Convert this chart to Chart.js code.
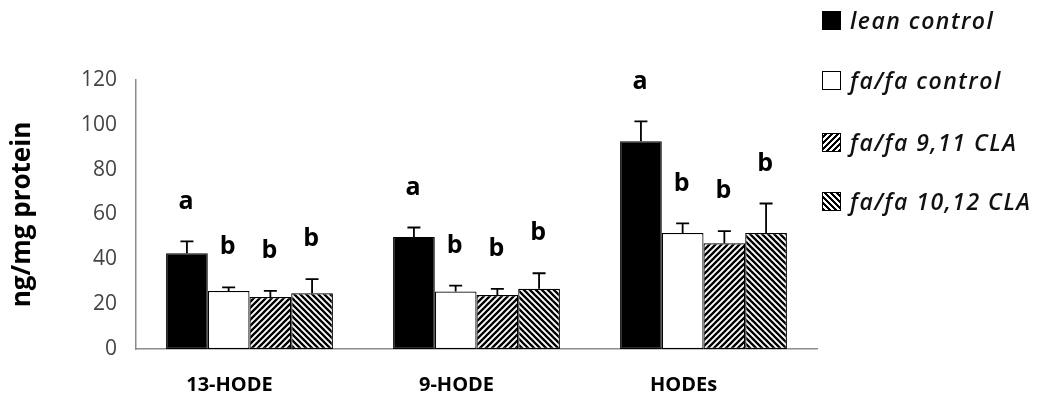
<!DOCTYPE html>
<html lang="en">
<head>
    <meta charset="UTF-8">
    <title>HODE</title>
    <script src="https://cdn.jsdelivr.net/npm/chart.js"></script>
    <style>
        body { margin: 0; background: #fff; }
        .wrap { position: relative; width: 1045px; height: 414px; }
        .legend { position: absolute; left: 822px; top: 0; font-family: "Open Sans", sans-serif; font-style: italic; font-weight: 600; font-size: 23px; letter-spacing: 1.5px; color: #111; }
        .legend div { position: absolute; left: 0; white-space: nowrap; display: flex; align-items: center; }
        .legend span.box { width: 19px; height: 19px; border: 1px solid #000; box-sizing: border-box; margin-right: 9px; }
    </style>
</head>
<body>
<div class="wrap">
    <canvas id="chart"></canvas>
    <div class="legend" id="legend"></div>
</div>

<script>
    // categories and series
    const categories = ['13-HODE', '9-HODE', 'HODEs'];
    const seriesNames = ['lean control', 'fa/fa control', 'fa/fa 9,11 CLA', 'fa/fa 10,12 CLA'];

    const leanControl = [42.7, 50.0, 92.7];
    const fafaControl = [25.9, 25.6, 51.7];
    const fafaCla911 = [23.2, 24.1, 47.2];
    const fafaCla1012 = [24.9, 26.9, 51.7];

    // standard errors
    const leanErr = [5.3, 4.2, 8.8];
    const fafaErr = [1.6, 2.7, 4.3];
    const cla911Err = [2.7, 2.7, 5.4];
    const cla1012Err = [6.3, 6.9, 13.2];

    // significance letters
    const leanLetters = ['a', 'a', 'a'];
    const fafaLetters = ['b', 'b', 'b'];
    const cla911Letters = ['b', 'b', 'b'];
    const cla1012Letters = ['b', 'b', 'b'];

    const yTicks = [0, 20, 40, 60, 80, 100, 120];

    // diagonal hatch; dir 1 = "/", dir -1 = "\"
    function stripes(dir) {
        const s = 6;
        const c = document.createElement('canvas');
        c.width = s; c.height = s;
        const g = c.getContext('2d');
        g.fillStyle = '#fff';
        g.fillRect(0, 0, s, s);
        g.strokeStyle = '#000';
        g.lineWidth = 2.3;
        g.beginPath();
        if (dir > 0) {
            g.moveTo(-1, s + 1); g.lineTo(s + 1, -1);
            g.moveTo(-1, 1); g.lineTo(1, -1);
            g.moveTo(s - 1, s + 1); g.lineTo(s + 1, s - 1);
        } else {
            g.moveTo(-1, -1); g.lineTo(s + 1, s + 1);
            g.moveTo(s - 1, -1); g.lineTo(s + 1, 1);
            g.moveTo(-1, s - 1); g.lineTo(1, s + 1);
        }
        g.stroke();
        return c;
    }

    const ctx = document.getElementById('chart').getContext('2d');
    const hatchUp = ctx.createPattern(stripes(1), 'repeat');
    const hatchDown = ctx.createPattern(stripes(-1), 'repeat');

    function bar(label, data, err, letters, fill) {
        return {
            label, data, err, letters,
            backgroundColor: fill,
            borderColor: '#000',
            borderWidth: 1.2,
            borderSkipped: false,
            categoryPercentage: 0.735,
            barPercentage: 1.0
        };
    }

    // error bars and letters above each bar
    const errorBars = {
        id: 'errorBars',
        afterDatasetsDraw(chart) {
            const c = chart.ctx;
            const y = chart.scales.y;
            c.save();
            chart.data.datasets.forEach((ds, i) => {
                chart.getDatasetMeta(i).data.forEach((el, j) => {
                    const top = y.getPixelForValue(ds.data[j] + ds.err[j]);
                    c.strokeStyle = '#000';
                    c.lineWidth = 1.8;
                    c.beginPath();
                    c.moveTo(el.x, el.y);
                    c.lineTo(el.x, top);
                    c.moveTo(el.x - 6.5, top);
                    c.lineTo(el.x + 6.5, top);
                    c.stroke();

                    c.fillStyle = '#000';
                    c.font = 'bold 25px "Open Sans"';
                    c.textAlign = 'center';
                    c.textBaseline = 'middle';
                    c.fillText(ds.letters[j], el.x - 1, top - 40);
                });
            });
            c.restore();
        }
    };

    new Chart(ctx, {
        type: 'bar',
        data: {
            labels: categories,
            datasets: [
                bar(seriesNames[0], leanControl, leanErr, leanLetters, '#000'),
                bar(seriesNames[1], fafaControl, fafaErr, fafaLetters, '#fff'),
                bar(seriesNames[2], fafaCla911, cla911Err, cla911Letters, hatchUp),
                bar(seriesNames[3], fafaCla1012, cla1012Err, cla1012Letters, hatchDown)
            ]
        },
        options: {
            responsive: true,
            maintainAspectRatio: false,
            animation: false,
            layout: { padding: { top: 80, right: 228, left: 0, bottom: 0 } },
            plugins: { legend: { display: false }, tooltip: { enabled: false } },
            scales: {
                x: {
                    grid: { display: false, drawTicks: false },
                    border: { color: '#8c8c8c', width: 1.5 },
                    ticks: {
                        color: '#000',
                        font: { family: 'Open Sans', weight: 'bold', size: 20 },
                        padding: 24,
                        labelOffset: -20
                    },
                    afterFit(s) { s.height = 65; }
                },
                y: {
                    min: 0,
                    max: 120,
                    afterBuildTicks(s) { s.ticks = yTicks.map(v => ({ value: v })); },
                    grid: { display: false, drawOnChartArea: false, drawTicks: true, tickLength: 9, tickColor: '#8c8c8c' },
                    border: { color: '#8c8c8c', width: 1.5 },
                    ticks: {
                        color: '#444',
                        font: { family: 'Open Sans', size: 21 },
                        padding: 10
                    },
                    title: {
                        display: true,
                        text: 'ng/mg protein',
                        color: '#000',
                        font: { family: 'Open Sans', weight: 'bold', size: 26 },
                        padding: { top: 7, bottom: 0 }
                    },
                    afterFit(s) { s.width = 136; }
                }
            }
        },
        plugins: [errorBars]
    });

    // legend
    const swatches = [
        'background:#000',
        'background:#fff',
        'background:repeating-linear-gradient(-45deg,#000 0 2px,#fff 2px 4.2px)',
        'background:repeating-linear-gradient(45deg,#000 0 2px,#fff 2px 4.2px)'
    ];
    const rowsY = [20, 80, 142, 201];
    const legend = document.getElementById('legend');
    seriesNames.forEach((name, i) => {
        const row = document.createElement('div');
        row.style.top = (rowsY[i] - 16) + 'px';
        row.style.height = '32px';
        row.innerHTML = '<span class="box" style="' + swatches[i] + '"></span>' + name;
        legend.appendChild(row);
    });
</script>
</body>
</html>
